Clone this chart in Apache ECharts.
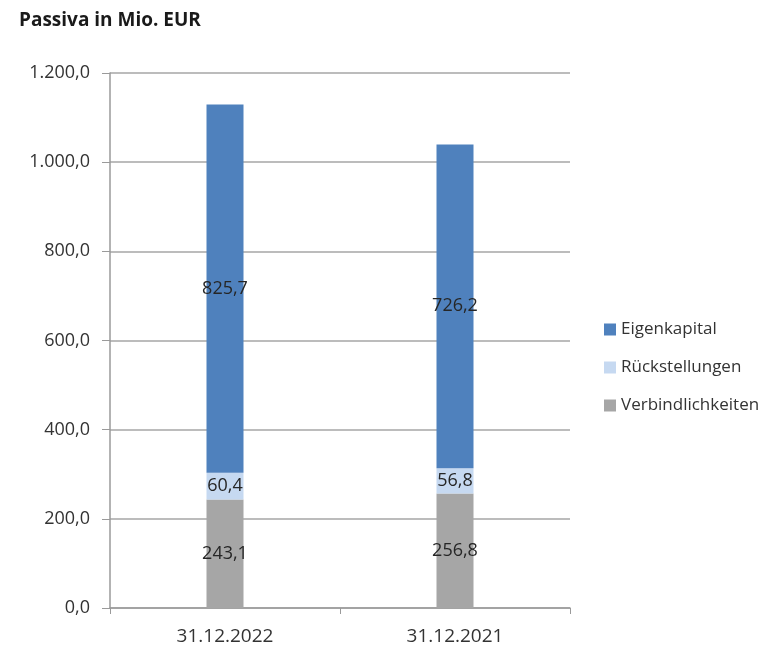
<!DOCTYPE html>
<html><head><meta charset="utf-8">
<script src="https://cdn.jsdelivr.net/npm/echarts@6/dist/echarts.min.js"></script>
<style>html,body{margin:0;padding:0;background:#fff}#c{width:769px;height:653px}</style>
</head><body><div id="c"></div>
<script>
const categories = ['31.12.2022', '31.12.2021'];
const verbindlichkeiten = [243.1, 256.8];
const rueckstellungen = [60.4, 56.8];
const eigenkapital = [825.7, 726.2];
const yTicks = [0, 200, 400, 600, 800, 1000, 1200];

function de(v) {
  const s = v.toFixed(1).split('.');
  const int = s[0].replace(/\B(?=(\d{3})+(?!\d))/g, '.');
  return int + ',' + s[1];
}
const font = 'Open Sans';
const lbl = { show: true, position: 'inside', color: '#262626', fontSize: 18, fontFamily: font, formatter: p => de(p.value) };
const chart = echarts.init(document.getElementById('c'));
chart.setOption({
  animation: false,
  title: { text: 'Passiva in Mio. EUR', left: 14, top: 6, textStyle: { fontFamily: font, fontWeight: 'bold', fontSize: 19, color: '#1a1a1a' } },
  legend: {
    orient: 'vertical', left: 599, top: 316, itemWidth: 12, itemHeight: 12, itemGap: 21,
    icon: 'rect',
    textStyle: { fontFamily: font, fontSize: 17, color: '#333' },
    data: ['Eigenkapital', 'Rückstellungen', 'Verbindlichkeiten']
  },
  grid: { left: 110, top: 73, width: 460, height: 535, containLabel: false },
  xAxis: {
    type: 'category', data: categories,
    axisLine: { lineStyle: { color: '#9a9a9a', width: 1.5 } },
    axisTick: { show: true, length: 6, lineStyle: { color: '#9a9a9a' } },
    axisLabel: { fontFamily: font, fontSize: 19, color: '#333', margin: 19 }
  },
  yAxis: {
    type: 'value', min: 0, max: 1200, interval: 200,
    axisLine: { show: true, lineStyle: { color: '#9a9a9a', width: 1.5 } },
    axisTick: { show: true, length: 8, lineStyle: { color: '#9a9a9a' } },
    splitLine: { lineStyle: { color: '#a6a6a6', width: 1.5 } },
    axisLabel: { fontFamily: font, fontSize: 18, color: '#333', margin: 20, formatter: v => yTicks.includes(v) ? de(v) : '' }
  },
  series: [
    { name: 'Verbindlichkeiten', type: 'bar', stack: 's', data: verbindlichkeiten, barWidth: 37, itemStyle: { color: '#a6a6a6' }, label: lbl },
    { name: 'Rückstellungen', type: 'bar', stack: 's', data: rueckstellungen, barWidth: 37, itemStyle: { color: '#c6d9f1' }, label: lbl },
    { name: 'Eigenkapital', type: 'bar', stack: 's', data: eigenkapital, barWidth: 37, itemStyle: { color: '#4f81bd' }, label: lbl }
  ]
});
</script></body></html>
